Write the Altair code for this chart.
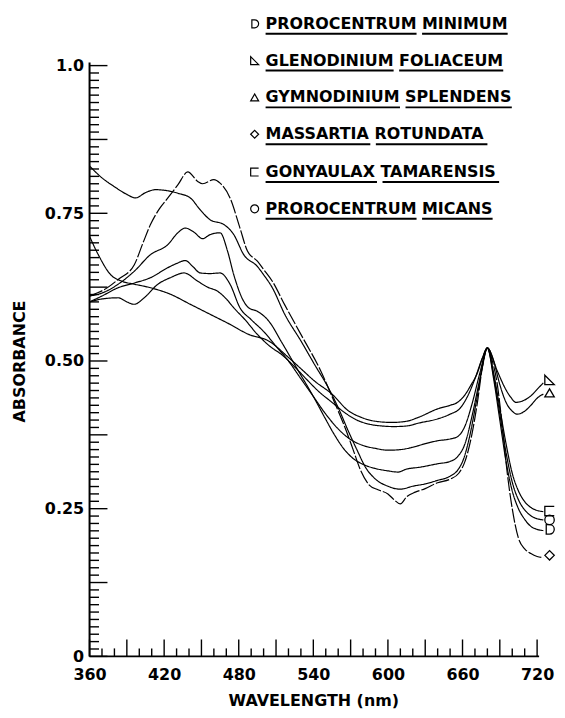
import altair as alt
import pandas as pd

species = ["PROROCENTRUM MINIMUM", "GLENODINIUM FOLIACEUM", "GYMNODINIUM SPLENDENS",
           "MASSARTIA ROTUNDATA", "GONYAULAX TAMARENSIS", "PROROCENTRUM MICANS"]

# Prorocentrum minimum
wl_min = [360,370,380,390,397,405,413,420,431,441,449,457,468,476,484,495,500,507,517,530,541,552,560,568,575,582,590,600,610,620,630,640,650,656,661,666,671,676,680,685,690,695,700,705,710,715,720,725]
ab_min = [0.83,0.81,0.795,0.782,0.776,0.785,0.79,0.789,0.784,0.776,0.756,0.739,0.731,0.714,0.68,0.66,0.646,0.624,0.579,0.534,0.494,0.455,0.421,0.382,0.35,0.32,0.30,0.288,0.283,0.288,0.292,0.298,0.305,0.315,0.335,0.375,0.43,0.49,0.522,0.47,0.40,0.33,0.28,0.25,0.232,0.22,0.215,0.213]

# Glenodinium foliaceum
wl_gle = [360,367,377,386,396,409,425,441,457,473,488,504,520,530,541,555,568,578,590,603,615,625,640,650,656,661,667,672,676,680,688,694,699,703,709,715,720,725]
ab_gle = [0.711,0.68,0.646,0.635,0.63,0.624,0.613,0.596,0.579,0.562,0.545,0.534,0.506,0.487,0.466,0.444,0.416,0.405,0.398,0.396,0.398,0.405,0.419,0.425,0.43,0.44,0.46,0.48,0.505,0.522,0.483,0.455,0.438,0.43,0.433,0.441,0.452,0.463]

# Gymnodinium splendens
wl_gym = [360,370,383,390,396,404,415,425,436,447,455,463,470,476,485,495,505,515,525,535,544,555,565,575,585,595,605,615,625,640,650,658,664,670,676,680,685,690,695,700,704,710,715,720,725]
ab_gym = [0.60,0.605,0.607,0.60,0.596,0.607,0.63,0.641,0.649,0.635,0.625,0.618,0.605,0.59,0.57,0.545,0.525,0.51,0.49,0.468,0.449,0.43,0.413,0.40,0.393,0.39,0.389,0.39,0.395,0.402,0.41,0.42,0.44,0.47,0.505,0.522,0.50,0.46,0.43,0.415,0.41,0.415,0.425,0.437,0.444]

# Massartia rotundata
wl_mas = [360,366,372,383,396,403,409,416,423,431,439,447,451,460,465,473,481,487,495,500,507,517,530,546,557,565,572,578,585,592,600,605,610,615,622,630,640,650,657,662,667,672,676,680,684,688,692,696,700,705,710,715,720,725]
ab_mas = [0.61,0.615,0.621,0.638,0.663,0.70,0.731,0.757,0.776,0.798,0.82,0.804,0.80,0.807,0.801,0.776,0.725,0.686,0.669,0.655,0.635,0.595,0.545,0.483,0.43,0.39,0.35,0.315,0.29,0.282,0.275,0.265,0.258,0.27,0.278,0.284,0.294,0.30,0.31,0.33,0.37,0.43,0.49,0.522,0.50,0.46,0.39,0.31,0.25,0.2,0.182,0.174,0.169,0.167]

# Gonyaulax tamarensis
wl_gon = [360,370,383,396,409,423,430,437,443,449,457,465,473,481,490,500,510,520,530,540,550,560,570,580,590,600,610,620,630,640,650,656,662,668,674,680,685,690,695,700,705,710,715,720,725]
ab_gon = [0.60,0.61,0.624,0.632,0.641,0.658,0.665,0.67,0.66,0.649,0.648,0.649,0.63,0.59,0.57,0.55,0.525,0.50,0.47,0.44,0.41,0.385,0.367,0.357,0.352,0.349,0.35,0.354,0.36,0.365,0.368,0.372,0.39,0.43,0.48,0.522,0.48,0.42,0.36,0.31,0.28,0.262,0.252,0.247,0.245]

# Prorocentrum micans
wl_mic = [360,370,383,396,409,423,431,437,444,451,457,465,471,476,484,488,495,504,515,528,540,549,557,565,572,580,590,600,608,615,625,640,650,656,662,668,674,680,685,690,695,700,705,710,715,720,725]
ab_mic = [0.61,0.615,0.63,0.652,0.68,0.697,0.717,0.725,0.718,0.707,0.714,0.717,0.686,0.646,0.601,0.59,0.584,0.568,0.53,0.483,0.44,0.405,0.375,0.35,0.335,0.325,0.318,0.314,0.312,0.317,0.32,0.326,0.33,0.338,0.36,0.41,0.47,0.522,0.475,0.41,0.345,0.295,0.265,0.248,0.238,0.233,0.231]

# end-of-curve symbols
end_wl = [730, 730, 730, 730, 730, 730]
end_ab = [0.215, 0.468, 0.446, 0.171, 0.246, 0.231]

y_tick_labels = [0, 0.25, 0.5, 0.75, 1.0]
x_tick_labels = [360, 420, 480, 540, 600, 660, 720]

# ---- style / layout ----
W, H = 450, 594
FONT = "DejaVu Sans"
FS = 16
shapes = [
    "M-0.7,-1L0,-1A1,1,0,0,1,0,1L-0.7,1Z",   # D
    "M-1,-1L1,1L-1,1Z",                       # right triangle
    "triangle-up",
    "diamond",
    "M1,-1L-1,-1L-1,1L1,1",                   # open square
    "circle",
]
dashes = [[1, 0], [1, 0], [1, 0], [14, 2], [1, 0], [1, 0]]

series = [(wl_min, ab_min), (wl_gle, ab_gle), (wl_gym, ab_gym),
          (wl_mas, ab_mas), (wl_gon, ab_gon), (wl_mic, ab_mic)]
rows = []
for name, (wl, ab) in zip(species, series):
    for w, a in zip(wl, ab):
        rows.append({"species": name, "wl": w, "ab": a})
lines_df = pd.DataFrame(rows)
end_df = pd.DataFrame({"species": species, "wl": end_wl, "ab": end_ab})

x_scale = alt.Scale(domain=[360, 720], nice=False, zero=False)
y_scale = alt.Scale(domain=[0, 1.0], nice=False, zero=False)

x_axis = alt.Axis(values=x_tick_labels, format="d", ticks=False, grid=False,
                  domain=False, labelFlush=False,
                  labelFont=FONT, labelFontWeight="bold", labelFontSize=FS, labelColor="black",
                  labelPadding=10,
                  title="WAVELENGTH (nm)", titleFont=FONT, titleFontWeight="bold",
                  titleFontSize=FS, titleColor="black", titleY=44, titleBaseline="middle")
y_axis = alt.Axis(values=y_tick_labels, ticks=False, grid=False,
                  domain=False, labelFlush=False,
                  labelExpr="datum.value == 0 ? '0' : datum.value == 1 ? '1.0' : format(datum.value, '.2f')",
                  labelFont=FONT, labelFontWeight="bold", labelFontSize=FS, labelColor="black",
                  labelPadding=6,
                  title="ABSORBANCE", titleFont=FONT, titleFontWeight="bold",
                  titleFontSize=FS, titleColor="black", titleX=-70, titleY=H / 2,
                  titleBaseline="middle", titleAngle=270)

lines = alt.Chart(lines_df).mark_line(color="black", strokeWidth=1.2, clip=False,
                                      interpolate="monotone").encode(
    x=alt.X("wl:Q", scale=x_scale, axis=x_axis),
    y=alt.Y("ab:Q", scale=y_scale, axis=y_axis),
    detail="species:N",
    strokeDash=alt.StrokeDash("species:N", scale=alt.Scale(domain=species, range=dashes), legend=None),
)

ends = alt.Chart(end_df).mark_point(filled=False, color="black", strokeWidth=1.3, size=90,
                                    clip=False, opacity=1).encode(
    x=alt.X("wl:Q"), y=alt.Y("ab:Q"),
    shape=alt.Shape("species:N", scale=alt.Scale(domain=species, range=shapes), legend=None),
)

# axis lines
frame_layers = [
    alt.Chart(pd.DataFrame({"k": [0]})).mark_rule(color="black", strokeWidth=2).encode(
        x=alt.value(0), y=alt.value(-3), y2=alt.value(H)),
    alt.Chart(pd.DataFrame({"k": [0]})).mark_rule(color="black", strokeWidth=2).encode(
        x=alt.value(0), x2=alt.value(W + 2), y=alt.value(H)),
]

# inward-pointing axis ticks: y every 0.0125 (long every 0.125), x every 10 nm (long every 30 nm)
# tick lengths expressed in the other axis' units (about 9/18 px and 8/17 px)
y_ticks = alt.Chart(alt.sequence(0, 81, as_="i")).transform_calculate(
    ab="datum.i * 0.0125",
    x0="360",
    tl="datum.i % 10 == 0 ? 374.4 : 367.6",
).mark_rule(color="black", strokeWidth=1.4, opacity=1).encode(
    y=alt.Y("ab:Q"), x=alt.X("x0:Q"), x2=alt.X2("tl:Q"))

x_ticks = alt.Chart(alt.sequence(0, 37, as_="i")).transform_calculate(
    wl="360 + datum.i * 10",
    y0="0",
    tl="datum.i % 3 == 0 ? 0.0286 : 0.0135",
).mark_rule(color="black", strokeWidth=1.4, opacity=1).encode(
    x=alt.X("wl:Q"), y=alt.Y("y0:Q"), y2=alt.Y2("tl:Q"))

# approximate DejaVu Sans Bold advance widths (em) for underline lengths
ADV = {"A": .774, "B": .762, "C": .734, "D": .830, "E": .683, "F": .683, "G": .821,
       "H": .837, "I": .372, "L": .637, "M": .995, "N": .837, "O": .850, "P": .733,
       "R": .770, "S": .720, "T": .682, "U": .812, "X": .771, "Y": .724, " ": .348}

# legend block (top right)
row_y = [-42, -5, 32, 69, 107, 144]
TEXT_X, SYM_X = 177, 166
legend_layers = []
for i, name in enumerate(species):
    legend_layers.append(
        alt.Chart(pd.DataFrame({"label": [name]})).mark_text(
            align="left", baseline="middle", font=FONT, fontWeight="bold", fontSize=FS,
            color="black").encode(x=alt.value(TEXT_X), y=alt.value(row_y[i]), text="label:N"))
    legend_layers.append(
        alt.Chart(pd.DataFrame({"k": [0]})).mark_point(
            filled=False, color="black", strokeWidth=1.2, size=64, opacity=1).encode(
            x=alt.value(SYM_X), y=alt.value(row_y[i]), shape=alt.value(shapes[i])))
    pos = TEXT_X
    for word in name.split(" "):
        wlen = sum(ADV.get(c, 0.75) for c in word) * FS
        legend_layers.append(
            alt.Chart(pd.DataFrame({"k": [0]})).mark_rule(color="black", strokeWidth=2).encode(
                x=alt.value(pos), x2=alt.value(pos + wlen), y=alt.value(row_y[i] + 10)))
        pos += wlen + ADV[" "] * FS

chart = alt.layer(
    lines, ends, *legend_layers, *frame_layers, y_ticks, x_ticks,
).properties(
    width=W, height=H,
    autosize=alt.AutoSizeParams(type="none"),
    padding={"left": 82, "top": 56, "right": 20, "bottom": 52},
    background="white",
).configure_view(stroke=None)

chart.save("out.html", embed_options={"renderer": "svg", "actions": False})
